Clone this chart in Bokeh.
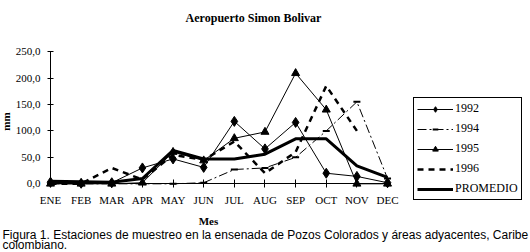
import math
from bokeh.plotting import figure
from bokeh.models import (Range1d, LinearAxis, FixedTicker, Legend, LegendItem,
                          Label, ColumnDataSource)
from bokeh.embed import file_html
from bokeh.resources import INLINE

# ---- data ----
months = ["ENE", "FEB", "MAR", "APR", "MAY", "JUN", "JUL", "AUG", "SEP", "OCT", "NOV", "DEC"]
y_ticks = [0, 50, 100, 150, 200, 250]
y_tick_labels = ["0,0", "50,0", "100,0", "150,0", "200,0", "250,0"]
y1992 = [3, 1, 2, 30, 47, 31, 118, 66, 116, 20, 14, 2]
y1994 = [0, 0, 0, 0, 0, 2, 27, 30, 50, 100, 155, 10]
y1995 = [0, 0, 0, 2, 60, 44, 86, 98, 209, 140, 0, 0]
y1996 = [0, 0, 30, 8, 55, 45, 80, 20, 60, 185, 100, float("nan")]
promedio = [5, 4, 3, 10, 63, 47, 47, 56, 85, 85, 34, 12]
title_text = "Aeropuerto Simon Bolivar"
x_title = "Mes"
y_title = "mm"
caption1 = "Figura 1. Estaciones de muestreo en la ensenada de Pozos Colorados y áreas adyacentes, Caribe"
caption2 = "colombiano."

idx = list(range(len(months)))
src = ColumnDataSource(dict(x=idx, y92=y1992, y94=y1994, y95=y1995, y96=y1996, prom=promedio))

W, H = 530, 252
SERIF = "Liberation Serif"
X0, DX = 50.0, 30.64      # pixel of ENE, pixels per month
Y0, DY = 183.3, 0.529     # pixel of 0 mm, pixels per mm

p = figure(width=W, height=H, output_backend="svg", toolbar_location=None,
           x_range=Range1d(-X0 / DX, (W - X0) / DX),
           y_range=Range1d(-(H - Y0) / DY, Y0 / DY),
           x_axis_type=None, y_axis_type=None,
           min_border_left=0, min_border_right=0, min_border_top=0, min_border_bottom=0)
p.outline_line_color = None
p.background_fill_color = "white"
p.border_fill_color = "white"

def style_axis(ax):
    ax.axis_line_color = "black"
    ax.axis_line_width = 1
    ax.major_tick_line_color = "black"
    ax.minor_tick_line_color = None
    ax.major_label_text_font = SERIF
    ax.major_label_text_font_size = "11px"
    ax.major_label_text_color = "black"

xax = LinearAxis(ticker=FixedTicker(ticks=idx),
                 major_label_overrides={i: m for i, m in enumerate(months)},
                 fixed_location=0, bounds=(0, 11.1))
style_axis(xax)
xax.major_tick_in = 4
xax.major_tick_out = 4
xax.major_label_standoff = 6
p.add_layout(xax, "below")

yax = LinearAxis(ticker=FixedTicker(ticks=y_ticks),
                 major_label_overrides={t: l for t, l in zip(y_ticks, y_tick_labels)},
                 fixed_location=0, bounds=(0, 250))
style_axis(yax)
yax.major_tick_in = 3
yax.major_tick_out = 3
yax.major_label_standoff = 7
p.add_layout(yax, "left")

# ---- series ----
l92 = p.line("x", "y92", source=src, line_color="black", line_width=1)
m92 = p.scatter("x", "y92", source=src, marker="diamond", size=10, fill_color="black", line_color="black")
l94 = p.line("x", "y94", source=src, line_color="black", line_width=1, line_dash="9 3 2 3")
m94 = p.scatter("x", "y94", source=src, marker="dash", size=7, line_color="black", line_width=2)
l95 = p.line("x", "y95", source=src, line_color="black", line_width=1)
m95 = p.scatter("x", "y95", source=src, marker="triangle", size=8, fill_color="black", line_color="black")
l96 = p.line("x", "y96", source=src, line_color="black", line_width=2.5, line_dash="6 5")
lpr = p.line("x", "prom", source=src, line_color="black", line_width=3)

legend = Legend(items=[LegendItem(label="1992", renderers=[l92, m92]),
                       LegendItem(label="1994", renderers=[l94, m94]),
                       LegendItem(label="1995", renderers=[l95, m95]),
                       LegendItem(label="1996", renderers=[l96]),
                       LegendItem(label="PROMEDIO", renderers=[lpr])],
                location=(413, H - 200), border_line_color="black", border_line_width=1,
                border_line_alpha=1, background_fill_color="white", background_fill_alpha=1,
                padding=3, spacing=5, margin=0, glyph_width=36, glyph_height=14,
                label_height=14, label_standoff=2, label_text_font=SERIF,
                label_text_font_size="12px", label_text_color="black")
p.add_layout(legend, "center")

def add_label(text, px, py, size, font=SERIF, style="normal", align="center", angle=0.0):
    p.add_layout(Label(x=px, y=H - py, x_units="screen", y_units="screen", text=text,
                       text_font=font, text_font_size=size, text_font_style=style,
                       text_align=align, text_baseline="middle", text_color="black",
                       angle=angle))

add_label(title_text, 253, 17, "12px", style="bold")
add_label(y_title, 5, 121, "11px", style="bold", angle=math.pi / 2)
add_label(x_title, 208, 220, "11px", style="bold")
add_label(caption1, 2, 234, "12px", font="Liberation Sans", align="left")
add_label(caption2, 2, 244.5, "12px", font="Liberation Sans", align="left")

open("out.html", "w").write(file_html(p, INLINE))
